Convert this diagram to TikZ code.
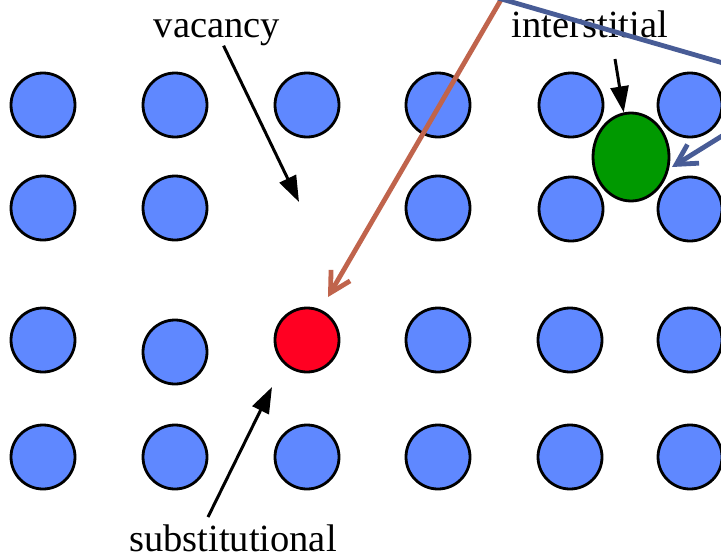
\documentclass[tikz,border=0pt]{standalone}
\usepackage{fontspec}
\setmainfont{Liberation Serif}
\usetikzlibrary{arrows.meta,shapes.geometric}
\definecolor{atomblue}{RGB}{95,136,255}
\definecolor{subred}{RGB}{255,0,34}
\definecolor{intgreen}{RGB}{0,153,0}
\definecolor{beamred}{RGB}{192,100,76}
\definecolor{beamblue}{RGB}{72,92,150}
\begin{document}
\begin{tikzpicture}[x=0.5pt,y=-0.5pt,
  atom/.style={circle, draw, line width=1.4pt, fill=atomblue, minimum size=32pt, inner sep=0pt},
  lbl/.style={font=\fontsize{19.25}{23}\selectfont, inner sep=0pt, anchor=base},
  blk/.style={line width=1.5pt, -{Triangle[length=13pt,width=9pt]}},
  beam/.style={line width=2.4pt, -{Straight Barb[length=10pt,width=11pt]}}]
\useasboundingbox (0,0) rectangle (721,557);
\clip (0,0) rectangle (721,557);
% row 1
\node[atom] (s11) at (43,105){};
\node[atom] (s12) at (175,105){};
\node[atom] (s13) at (307,105){};
\node[atom] (s14) at (438,105){};
\node[atom] (s15) at (571,105){};
\node[atom] (s16) at (690,105){};
% row 2, vacancy at column 3
\node[atom] (s21) at (43,208){};
\node[atom] (s22) at (175,208){};
\coordinate (vac) at (299,202);
\node[atom] (s24) at (438,208){};
\node[atom] (s25) at (571,209){};
\node[atom] (s26) at (690,209){};
% row 3, substitutional at column 3
\node[atom] (s31) at (43,340){};
\node[atom] (s32) at (175,352){};
\node[atom, fill=subred] (s33) at (307,340){};
\node[atom] (s34) at (438,340){};
\node[atom] (s35) at (570,340){};
\node[atom] (s36) at (690,340){};
% row 4
\node[atom] (s41) at (43,457){};
\node[atom] (s42) at (175,457){};
\node[atom] (s43) at (307,457){};
\node[atom] (s44) at (438,457){};
\node[atom] (s45) at (570,457){};
\node[atom] (s46) at (690,457){};
% interstitial
\node[ellipse, draw, line width=1.4pt, fill=intgreen, minimum width=38pt, minimum height=44pt, inner sep=0pt] (green) at (631,157){};

\node[lbl] (tvac) at (217,37){vacancy};
\node[lbl] (tint) at (590,37){interstitial};
\node[lbl] (tsub) at (233,551){substitutional};
\coordinate (intA) at (615,59);
\coordinate (subA) at (208,517);
\coordinate (subB) at (272,387);
\draw[blk] (tvac) -- (vac);
\draw[blk] (intA) -- (green);
\draw[blk] (subA) -- (subB);

\coordinate (rA) at (502,-2);
\coordinate (rB) at (328,297);
\coordinate (bA) at (498,-2);
\coordinate (bB) at (730,65);
\coordinate (cA) at (730,131);
\coordinate (cB) at (672,167);
\draw[beam, beamred] (rA) -- (rB);
\draw[line width=2.4pt, beamblue] (bA) -- (bB);
\draw[beam, beamblue] (cA) -- (cB);
\end{tikzpicture}
\end{document}
